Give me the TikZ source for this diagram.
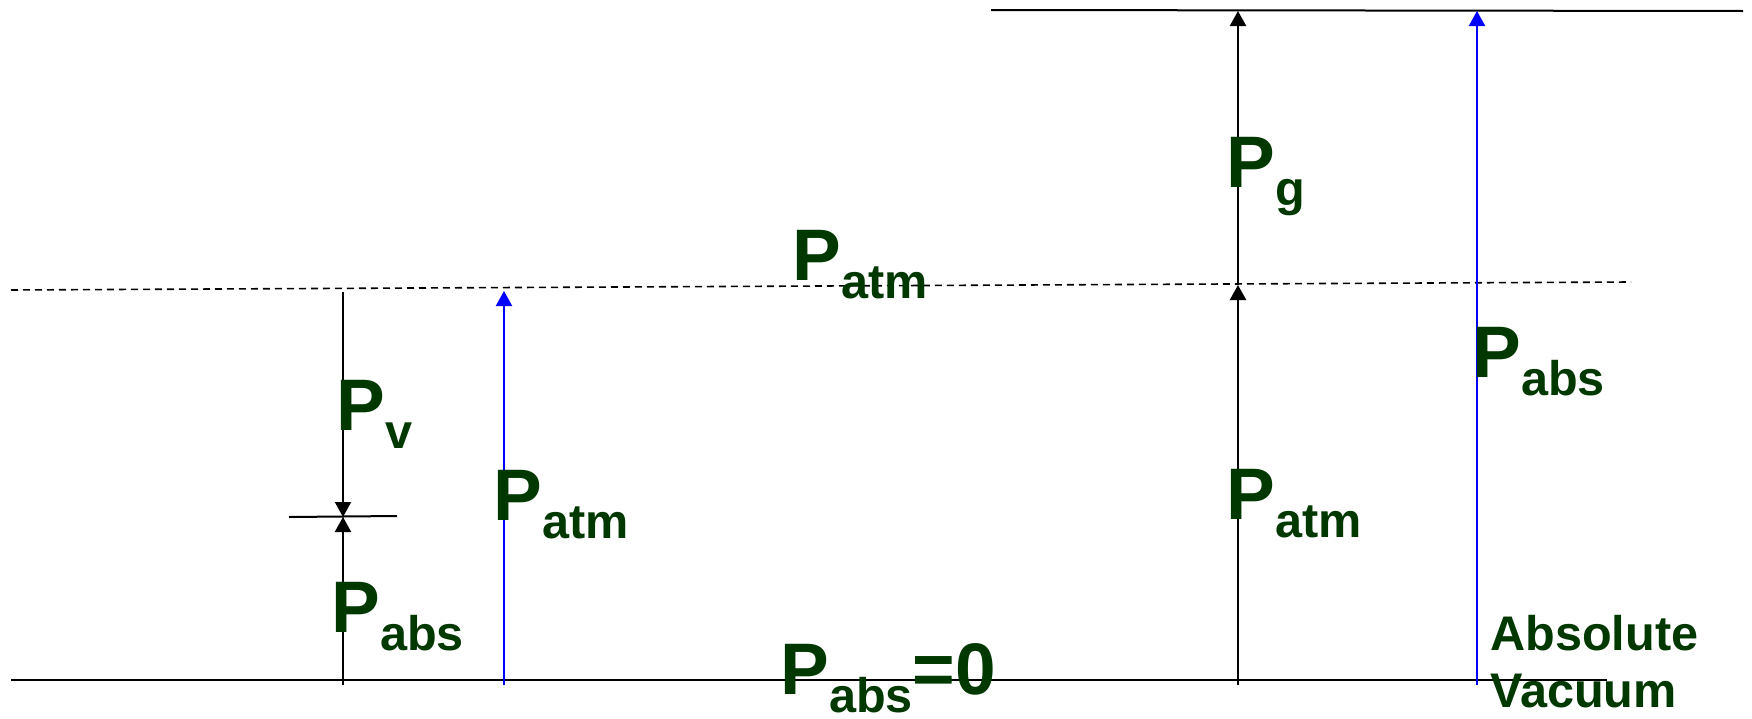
\documentclass[tikz,border=0pt]{standalone}
\usepackage{fontspec}
\setmainfont{Liberation Sans}
\usetikzlibrary{arrows.meta}
\definecolor{labgreen}{RGB}{0,56,0}
\newcommand{\subfnt}{\fontsize{24.3pt}{28.5pt}\selectfont}
\newcommand{\plbl}[1]{P\raisebox{-9pt}{\subfnt #1}}
\tikzset{lvl/.style={line width=1pt},
  atmline/.style={line width=0.8pt, dash pattern=on 3.5pt off 2.5pt},
  bar/.style={line width=1.1pt, -{Triangle[length=7.5pt,width=8pt]}},
  bluebar/.style={bar, blue},
  lbl/.style={anchor=base west, inner sep=0pt, text=labgreen, font=\bfseries\fontsize{36.5pt}{40pt}\selectfont}}

\begin{document}
\begin{tikzpicture}[x=0.5pt, y=-0.5pt]
  \useasboundingbox (0,0) rectangle (1752,718);
  % levels
  \coordinate (zeroL) at (11,680);
  \coordinate (zeroR) at (1607,680);
  \coordinate (atmL) at (11,290);
  \coordinate (atmR) at (1631,282);
  \coordinate (gageL) at (991,10);
  \coordinate (gageR) at (1743,11);
  \draw[lvl] (zeroL) -- (zeroR);
  \draw[atmline] (atmL) -- (atmR);
  \draw[lvl] (gageL) -- (gageR);
  % vacuum side
  \coordinate (v0) at (343,685);
  \coordinate (v1) at (343,517);
  \coordinate (v2) at (343,292);
  \coordinate (tickL) at (289,517);
  \coordinate (tickR) at (397,516);
  \draw[lvl] (tickL) -- (tickR);
  \draw[bar] (v0) -- (v1);
  \draw[bar] (v2) -- (v1);
  \coordinate (b0) at (504,685);
  \coordinate (b1) at (504,291);
  \draw[bluebar] (b0) -- (b1);
  % gauge side
  \coordinate (g0) at (1238,685);
  \coordinate (g1) at (1238,285);
  \coordinate (g2) at (1238,11);
  \draw[bar] (g0) -- (g1);
  \draw[bar] (g1) -- (g2);
  \coordinate (a0) at (1477,685);
  \coordinate (a1) at (1477,11);
  \draw[bluebar] (a0) -- (a1);
  % labels
  \node[lbl] (pv) at (336,430) {\plbl{v}};
  \node[lbl] (pabsv) at (331,632) {\plbl{abs}};
  \node[lbl] (patmv) at (493,520) {\plbl{atm}};
  \node[lbl] (patm) at (792,280) {\plbl{atm}};
  \node[lbl] (pzero) at (780,694) {\plbl{abs}=0};
  \node[lbl] (pg) at (1226,187) {\plbl{g}};
  \node[lbl] (patmg) at (1226,519) {\plbl{atm}};
  \node[lbl] (pabsg) at (1472,377) {\plbl{abs}};
  \node[lbl, anchor=base west, align=left, font=\bfseries\subfnt] (vac) at (1490,707) {Absolute\\Vacuum};
\end{tikzpicture}
\end{document}
